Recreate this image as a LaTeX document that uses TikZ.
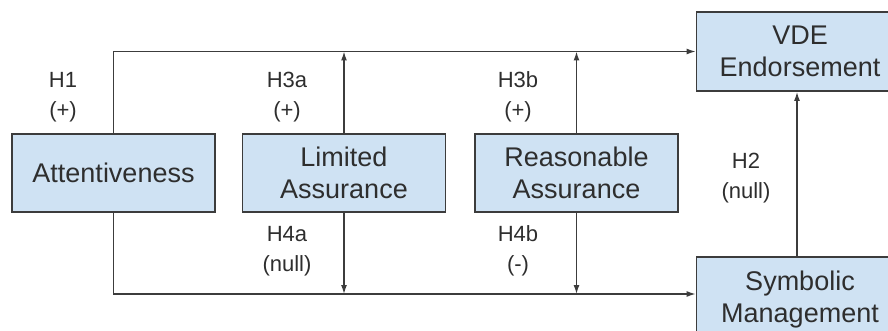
\documentclass[tikz,border=0pt]{standalone}
\usepackage{fontspec}
\setmainfont{Liberation Sans}
\usepackage{xcolor}
\usepackage{tikz}
\usetikzlibrary{arrows.meta, positioning}

\definecolor{boxblue}{HTML}{CFE2F3}
\definecolor{edgegray}{HTML}{3C3C3C}
\definecolor{textgray}{HTML}{2E2E2E}

\begin{document}
\begin{tikzpicture}[x=1pt, y=-1pt,
    var/.style={draw=edgegray, line width=1.8pt, fill=boxblue, text=textgray,
      minimum width=203pt, minimum height=78pt, align=center,
      font=\fontsize{27}{32}\selectfont},
    hyp/.style={text=textgray, align=center, font=\fontsize{22}{30}\selectfont},
    link/.style={draw=edgegray, line width=1.3pt, -{Latex[length=9pt, width=6pt]}}]
      \useasboundingbox (0,0) rectangle (888,331);

      \node (att) [var] at (113.5, 173) {Attentiveness};
      \node (lim) [var] at (344, 173) {Limited\\Assurance};
      \node (rea) [var] at (576.5, 173) {Reasonable\\Assurance};
      \node (vde) [var, minimum width=207pt, minimum height=79pt] at (800, 51.5) {VDE\\Endorsement};
      \node (sym) [var, minimum width=207pt, minimum height=86pt] at (800, 300) {Symbolic\\Management};
      \coordinate (symin) at ([yshift=6pt]sym.west);

      \node (h1) [hyp] at (63, 97) {H1\\(+)};
      \node (h3a) [hyp] at (287, 97) {H3a\\(+)};
      \node (h4a) [hyp] at (287, 251) {H4a\\(null)};
      \node (h3b) [hyp] at (518, 97) {H3b\\(+)};
      \node (h4b) [hyp] at (518, 251) {H4b\\(-)};
      \node (h2) [hyp] at (746, 178) {H2\\(null)};

      \draw[link] (att.north) |- (vde.west);
      \draw[link] (att.south) |- (symin);
      \draw[link] (lim.north) -- (lim.north |- vde.west);
      \draw[link] (lim.south) -- (lim.south |- symin);
      \draw[link] (rea.north) -- (rea.north |- vde.west);
      \draw[link] (rea.south) -- (rea.south |- symin);
      \draw[link] ([xshift=-3pt]sym.north) -- ([xshift=-3pt]vde.south);
    \end{tikzpicture}
\end{document}
